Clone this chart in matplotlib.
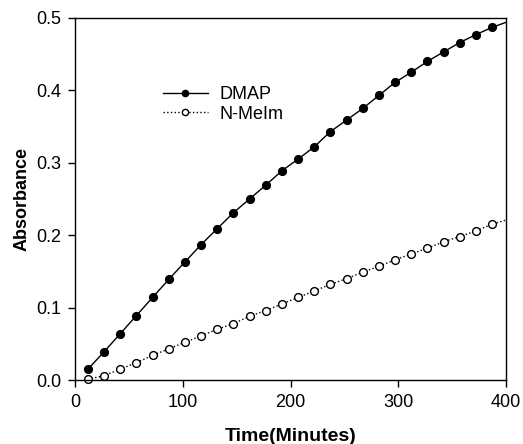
import matplotlib
matplotlib.use("Agg")
import matplotlib.pyplot as plt

plt.rcParams['font.family'] = ['Liberation Sans', 'DejaVu Sans']

time = [12, 27, 42, 57, 72, 87, 102, 117, 132, 147, 162, 177, 192,
        207, 222, 237, 252, 267, 282, 297, 312, 327, 342, 357, 372, 387, 400]
dmap = [0.015, 0.039, 0.064, 0.089, 0.114, 0.139, 0.163, 0.187, 0.209, 0.231,
        0.250, 0.269, 0.289, 0.305, 0.322, 0.343, 0.359, 0.375, 0.393, 0.411,
        0.425, 0.440, 0.453, 0.466, 0.477, 0.487, 0.494]
nmeim = [0.001, 0.006, 0.015, 0.024, 0.034, 0.043, 0.052, 0.061, 0.070, 0.078,
         0.088, 0.096, 0.105, 0.114, 0.123, 0.132, 0.140, 0.149, 0.157, 0.166,
         0.174, 0.182, 0.191, 0.198, 0.206, 0.215, 0.221]
# last value (t=400) is only where the curve meets the frame, no marker there
marked = list(range(len(time) - 1))

fig = plt.figure(figsize=(5.23, 4.44), dpi=100)
ax = fig.add_axes([0.1434, 0.1441, 0.8241, 0.8154])

ax.plot(time, dmap, color="black", linewidth=1, linestyle="-", marker="o",
        markersize=5.6, markerfacecolor="black", markeredgecolor="black",
        markevery=marked, clip_on=False, label="DMAP")
ax.plot(time, nmeim, color="black", linewidth=1, linestyle=":", marker="o",
        markersize=5.6, markerfacecolor="white", markeredgecolor="black",
        markeredgewidth=1, markevery=marked, clip_on=False, label="N-MeIm")

ax.set_xlim(0, 400)
ax.set_ylim(0, 0.5)
ax.set_xticks([0, 100, 200, 300, 400])
ax.set_yticks([0.0, 0.1, 0.2, 0.3, 0.4, 0.5])
ax.set_yticklabels(["0.0", "0.1", "0.2", "0.3", "0.4", "0.5"])
ax.tick_params(direction="out", length=5, width=1, labelsize=13,
               top=False, right=False)
ax.tick_params(axis="x", pad=5)
ax.tick_params(axis="y", pad=5)
for s in ax.spines.values():
    s.set_linewidth(1)

ax.set_xlabel("Time(Minutes)", fontsize=14, fontweight="bold", labelpad=12)
ax.set_ylabel("Absorbance", fontsize=13, fontweight="bold", labelpad=4)

ax.legend(loc="upper left", bbox_to_anchor=(0.204, 0.812), frameon=False,
          fontsize=13, handlelength=2.5, borderpad=0, borderaxespad=0,
          labelspacing=0.15, handletextpad=0.66, markerscale=0.8)

plt.savefig("out.png", dpi=100)
